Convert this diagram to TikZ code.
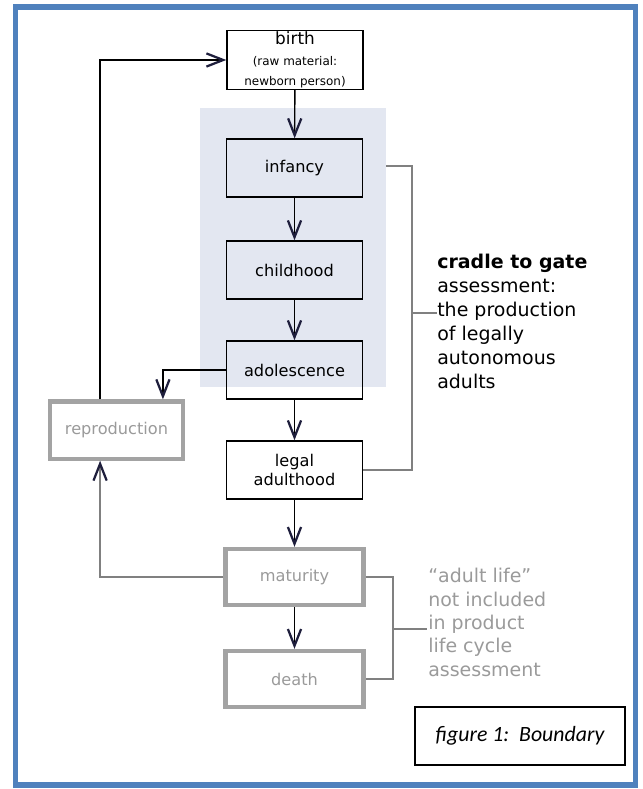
\documentclass[tikz,border=0pt]{standalone}
\usepackage{fontspec}
\setmainfont{DejaVu Sans}
\newfontfamily\figfont{Carlito}
\usepackage{tikz}
\usetikzlibrary{arrows.meta}
\definecolor{FrameBlue}{HTML}{4F81BD}
\definecolor{ShadeBlue}{HTML}{E3E7F1}
\definecolor{BoxGray}{HTML}{A3A3A3}
\definecolor{TextGray}{HTML}{9A9A9A}
\definecolor{TipNavy}{HTML}{1E1E3C}
\newcommand{\smalltxt}{\fontsize{8.5}{10}\selectfont}

\tikzset{
  stage/.style={draw=black, line width=1pt, minimum width=3.4cm, minimum height=1.45cm,
    font=\fontsize{11.5}{14}\selectfont, align=center, inner sep=1pt},
  later/.style={draw=BoxGray, line width=3pt, minimum width=3.45cm, minimum height=1.4cm,
    text=TextGray, font=\fontsize{11.5}{14}\selectfont},
  flow/.style={line width=1pt, -{Straight Barb[length=4.2mm,width=3.3mm,line width=1.6pt,color=TipNavy]}},
  bracket/.style={draw=gray, line width=0.9pt}
}

\begin{document}
\begin{tikzpicture}[x=0.025cm,y=-0.025cm]
  \useasboundingbox (0,0) rectangle (643,789);
  \draw[FrameBlue, line width=4pt] (15.5,7) rectangle (635.5,785);
  \fill[ShadeBlue] (200,108) rectangle (386,387);

  \node[stage] (birth) at (295,60) {\fontsize{12}{13}\selectfont birth\\[1pt]\smalltxt (raw material:\\ \smalltxt newborn person)};
  \node[stage] (infancy) at (294.5,168) {infancy};
  \node[stage] (childhood) at (294.5,270) {childhood};
  \node[stage] (adolescence) at (294.5,370) {adolescence};
  \node[stage] (legal) at (294.5,470) {legal\\ adulthood};
  \node[later] (maturity) at (294.5,577) {maturity};
  \node[later] (death) at (294.5,679) {death};
  \node[later, minimum width=3.33cm, minimum height=1.43cm] (reproduction) at (116.5,430) {reproduction};

  \draw[flow] (birth) -- (infancy);
  \draw[flow] (infancy) -- (childhood);
  \draw[flow] (childhood) -- (adolescence);
  \draw[flow] (adolescence) -- (legal);
  \draw[flow] (legal) -- (maturity);
  \draw[flow] (maturity) -- (death);

  \coordinate (repin) at ([xshift=1.16cm]reproduction.north);
  \coordinate (repup) at ([xshift=-0.41cm]reproduction.north);
  \coordinate (repdown) at ([xshift=-0.41cm]reproduction.south);
  \draw[flow] (adolescence.west) -| (repin);
  \draw[flow] (repup) |- (birth.west);
  \draw[flow, draw=gray] (maturity.west) -| (repdown);

  \node[anchor=north west, align=left, inner sep=0pt, font=\fontsize{13.5}{17}\selectfont] (cradle) at (437,254)
    {\textbf{cradle to gate}\\ assessment:\\ the production\\ of legally\\ autonomous\\ adults};
  \coordinate (cradletop) at (386,166);
  \coordinate (cradlebar) at (412,313);
  \draw[bracket] (cradletop) -| (cradlebar) |- (legal.east);
  \draw[bracket] (cradlebar) -- (cradle.west |- cradlebar);

  \node[anchor=north west, align=left, inner sep=0pt, text=TextGray, font=\fontsize{13.5}{16.6}\selectfont] (adultlife) at (428,568)
    {``adult life''\\ not included\\ in product\\ life cycle\\ assessment};
  \coordinate (adultbar) at (393,629);
  \draw[bracket] (maturity.east) -| (adultbar) |- (death.east);
  \draw[bracket] (adultbar) -- ([xshift=-1pt]adultlife.west |- adultbar);

  \node[draw=black, line width=1pt, minimum width=5.25cm, minimum height=1.45cm,
    font=\figfont\itshape\fontsize{15.5}{17}\selectfont] (caption) at (520,736) {figure 1:\ \ Boundary};
\end{tikzpicture}
\end{document}
